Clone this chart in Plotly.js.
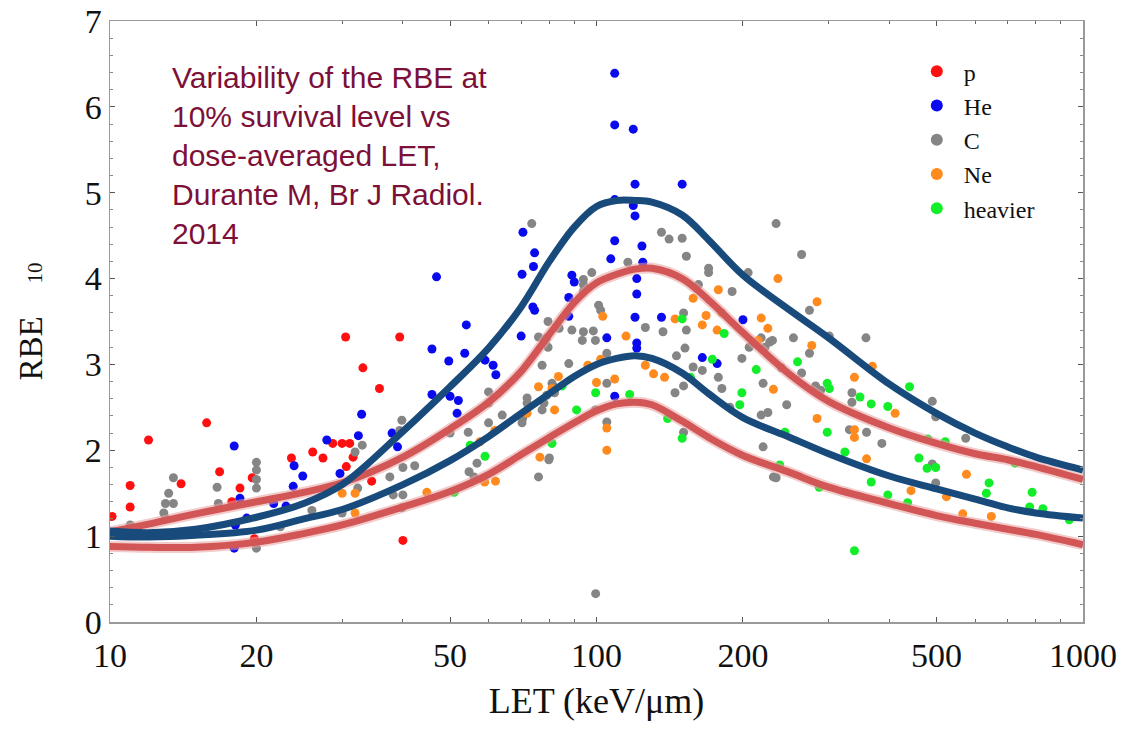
<!DOCTYPE html>
<html>
<head>
<meta charset="utf-8">
<script src="https://cdn.plot.ly/plotly-3.0.1.min.js"></script>
<style>html,body{margin:0;padding:0;background:#fff;}#chart{width:1124px;height:729px;}</style>
</head>
<body>
<div id="chart"></div>
<script>
// ---- data ----
const seriesNames = ["p", "He", "C", "Ne", "heavier"];

const letP = [10.1, 11.0, 11.0, 12.0, 14.0, 15.8, 16.8, 18.5, 19.6, 17.8, 19.8, 23.6, 26.1, 27.4, 28.7, 30.0, 31.1, 31.6, 30.6, 34.5, 30.5, 33.1, 35.8, 39.4, 40.0];
const rbeP = [1.23, 1.59, 1.34, 2.12, 1.61, 2.32, 1.75, 1.56, 1.68, 1.40, 0.97, 1.91, 1.98, 1.91, 2.08, 2.08, 2.08, 1.92, 1.81, 1.64, 3.32, 2.96, 2.72, 3.32, 0.95];

const letHe = [32.9, 32.4, 27.9, 18.0, 23.9, 24.9, 38.0, 39.0, 18.0, 18.5, 18.1, 19.1, 21.7, 23.8, 23.0, 29.7,
  70.6, 74.6, 74.2, 70.3, 46.9, 89, 90, 87.7, 109, 107, 124, 124.5, 121, 121, 74, 74.6, 54, 87.7, 70, 45.9, 49.7, 53.6, 59, 61.3, 62.1, 45.9, 50, 52, 51.7,
  105, 120, 136, 121, 121, 109, 165, 177, 200,
  109, 109, 119, 120, 150, 109, 119, 120];
const rbeHe = [2.42, 2.17, 2.12, 2.05, 1.82, 1.70, 2.20, 2.04, 0.86, 1.44, 1.13, 1.21, 1.38, 1.58, 1.35, 1.73,
  4.54, 4.30, 4.14, 4.05, 4.02, 4.04, 3.96, 3.78, 4.44, 4.23, 4.38, 4.19, 4.00, 3.82, 3.67, 3.63, 3.46, 3.56, 3.33, 3.18, 3.04, 3.13, 3.05, 2.99, 2.88, 2.65, 2.63, 2.58, 2.43,
  3.31, 3.55, 3.55, 3.25, 3.19, 2.63, 3.08, 3.01, 3.52,
  6.39, 5.79, 5.74, 5.10, 5.10, 4.92, 4.85, 4.73];

const letC = [13.5, 13.2, 13.0, 13.5, 12.9, 13.0, 11.0, 16.6, 16.7, 20, 20, 20, 20, 20, 22.4, 26, 30, 32.3, 37.6, 38.2, 33, 31.9, 39.4, 39.8,
  40, 42.3, 40, 39.8, 54.7, 79.8, 234, 99.6,
  73.6, 136, 141, 150, 234, 153, 116, 97.8, 94, 94, 94, 170, 170, 205, 162, 190, 101, 102, 79.5, 83.8, 89, 94, 98.5, 99.5, 93.5, 76, 79, 78.5, 79.5, 105, 126, 137, 151, 153, 152, 146, 158, 165, 178, 199, 206, 218, 227, 222, 220, 225, 218, 220, 145, 151, 151,
  87.7, 77.3, 81, 81.5, 82, 79, 78, 77.3, 72, 72, 105, 105, 99.5, 70.5, 70.3, 60, 60, 64, 60, 54.5, 50, 56.8, 56, 80, 76, 181, 188,
  264, 274, 301, 358, 254, 230, 274, 264, 240, 282, 289, 246, 335, 335, 331, 359, 386, 490, 498, 574, 231, 490, 498];
const rbeC = [1.68, 1.50, 1.38, 1.38, 1.27, 1.21, 1.13, 1.57, 1.38, 1.86, 1.77, 1.66, 1.56, 0.86, 1.11, 1.30, 1.27, 1.56, 1.69, 1.48, 2.06, 1.98, 2.23, 2.35,
  1.80, 1.82, 1.48, 1.33, 1.75, 1.89, 1.68, 0.33,
  4.64, 4.54, 4.46, 4.47, 4.64, 4.26, 4.19, 4.07, 3.99, 3.93, 3.85, 4.12, 4.07, 4.07, 3.93, 3.85, 3.69, 3.63, 3.50, 3.42, 3.40, 3.38, 3.39, 3.28, 3.28, 3.32, 3.31, 3.24, 3.20, 3.13, 3.43, 3.38, 3.60, 3.40, 3.19, 3.10, 2.97, 2.93, 2.85, 3.07, 3.20, 3.31, 3.26, 3.20, 2.78, 2.44, 2.41, 2.04, 2.67, 2.75, 2.21,
  3.01, 2.99, 2.78, 2.75, 2.67, 2.64, 2.55, 2.47, 2.61, 2.55, 2.78, 2.33, 2.47, 2.37, 2.32, 2.68, 2.55, 2.41, 2.32, 2.21, 2.20, 1.85, 1.69, 1.91, 1.69, 2.72, 2.50,
  4.28, 3.63, 3.33, 3.31, 3.31, 3.28, 3.13, 2.90, 2.96, 2.75, 2.70, 2.53, 2.67, 2.56, 2.24, 2.21, 2.08, 2.57, 2.39, 2.14, 1.69, 1.84, 1.62];

const letNe = [30, 31.9, 31.9, 58.9, 62, 44.8,
  103, 115, 96, 102, 109, 100, 83.5, 76, 81, 82, 72, 61.8, 57.6, 76.5, 105, 105, 126, 131, 138, 158, 178, 145, 165, 168, 177, 181, 218, 225, 215, 236,
  284, 277, 231, 369, 339, 284, 411, 339, 339, 359, 576, 443, 524, 566, 648];
const rbeNe = [1.50, 1.50, 1.27, 1.63, 1.64, 1.51,
  3.56, 3.33, 2.99, 3.06, 2.83, 2.79, 2.86, 2.74, 2.72, 2.47, 2.43, 2.23, 2.10, 1.92, 2.26, 2.00, 2.99, 2.89, 2.85, 3.77, 3.87, 3.53, 3.46, 3.57, 3.40, 3.60, 3.54, 3.42, 3.28, 4.00,
  3.73, 3.22, 2.71, 2.98, 2.85, 2.37, 2.43, 2.24, 2.15, 1.90, 1.72, 1.53, 1.46, 1.26, 1.23];

const letHeavy = [51, 150, 183, 173, 156, 213, 199, 197, 85, 99.6, 117, 91, 55, 59, 81, 140, 150,
  259, 298, 301, 348, 367, 397, 440, 244, 298, 324, 480, 521, 460, 478, 238, 725,
  287, 367, 397, 436, 641, 633, 786, 777, 827, 937, 339, 498];
const rbeHeavy = [1.51, 3.53, 3.36, 3.06, 2.85, 2.94, 2.67, 2.53, 2.75, 2.67, 2.65, 2.47, 2.06, 1.93, 2.08, 2.37, 2.14,
  3.03, 2.78, 2.72, 2.62, 2.54, 2.51, 2.74, 2.21, 2.21, 1.98, 2.13, 2.10, 1.91, 1.79, 1.83, 1.85,
  1.57, 1.63, 1.48, 1.39, 1.62, 1.50, 1.51, 1.34, 1.32, 1.19, 0.83, 1.80];

// fitted curves
const curveLET = [10, 12, 15, 20, 25, 30, 40, 50, 60, 70, 80, 90, 100, 110, 120, 130, 150, 170, 200, 250, 300, 400, 500, 600, 700, 800, 1000];
const blueUpper = [1.06, 1.04, 1.08, 1.22, 1.38, 1.60, 2.22, 2.74, 3.19, 3.67, 4.20, 4.60, 4.84, 4.91, 4.91, 4.89, 4.74, 4.45, 4.04, 3.63, 3.31, 2.77, 2.43, 2.20, 2.04, 1.92, 1.77];
const redUpper  = [1.05, 1.14, 1.26, 1.40, 1.51, 1.62, 1.92, 2.25, 2.56, 2.92, 3.35, 3.72, 3.95, 4.05, 4.11, 4.12, 4.00, 3.75, 3.37, 2.88, 2.57, 2.26, 2.08, 1.96, 1.89, 1.81, 1.66];
const blueLower = [1.00, 0.99, 1.01, 1.07, 1.20, 1.31, 1.60, 1.88, 2.16, 2.43, 2.66, 2.86, 3.00, 3.07, 3.10, 3.07, 2.90, 2.66, 2.38, 2.15, 1.96, 1.70, 1.55, 1.43, 1.33, 1.27, 1.21];
const redLower  = [0.88, 0.87, 0.87, 0.93, 1.03, 1.13, 1.34, 1.52, 1.72, 1.95, 2.15, 2.32, 2.46, 2.54, 2.56, 2.53, 2.34, 2.15, 1.94, 1.74, 1.57, 1.38, 1.24, 1.15, 1.08, 1.02, 0.90];

const xTickVals = [10, 20, 50, 100, 200, 500, 1000];
const xTickText = ["10", "20", "50", "100", "200", "500", "1000"];
const xMinorVals = [30, 40, 60, 70, 80, 90, 300, 400, 600, 700, 800, 900];

// ---- styling ----
const colors = ["#ff1010", "#0a0aee", "#858585", "#ff8a1e", "#12ee2a"];
const serif = "'Liberation Serif', 'Times New Roman', serif";
const xs = [letP, letHe, letC, letNe, letHeavy];
const ys = [rbeP, rbeHe, rbeC, rbeNe, rbeHeavy];

const traces = seriesNames.map((n, i) => ({
  type: "scatter", mode: "markers", name: n, x: xs[i], y: ys[i],
  legendgroup: n,
  marker: {color: colors[i], size: 9, line: {width: 0}}
}));

function curve(yv, col, w, op) {
  return {type: "scatter", mode: "lines", x: curveLET, y: yv, showlegend: false,
    hoverinfo: "skip", opacity: op,
    line: {color: col, width: w, shape: "spline", smoothing: 1.0}};
}
traces.push(curve(redUpper, "#e8a0a0", 11, 0.55));
traces.push(curve(redLower, "#e8a0a0", 11, 0.55));
traces.push(curve(redUpper, "#d35656", 7, 1));
traces.push(curve(redLower, "#d35656", 7, 1));
traces.push(curve(blueUpper, "#184b7c", 7, 1));
traces.push(curve(blueLower, "#184b7c", 7, 1));

const axisCommon = {
  showgrid: false, zeroline: false, showline: true, linecolor: "#9a9a9a", linewidth: 1.5,
  mirror: "ticks", ticks: "inside", ticklen: 5, tickwidth: 1, tickcolor: "#555",
  tickfont: {family: serif, size: 34, color: "#111"}
};

const nb = "\u00A0";
const layout = {
  width: 1124, height: 729,
  margin: {l: 110, r: 41, t: 21, b: 107},
  paper_bgcolor: "#fff", plot_bgcolor: "#fff",
  showlegend: true,
  legend: {x: 0.822, y: 0.953, xanchor: "left", yanchor: "top",
    font: {family: serif, size: 24, color: "#111"}, tracegroupgap: 0,
    itemwidth: 44,
    bgcolor: "rgba(0,0,0,0)", itemsizing: "constant"},
  xaxis: Object.assign({}, axisCommon, {
    type: "log", range: [1, 3], tickvals: xTickVals, ticktext: xTickText,
    ticklabelstandoff: 3,
    minor: {tickvals: xMinorVals, ticks: "inside", ticklen: 3, tickcolor: "#666"},
    title: {text: "LET (keV/μm)", font: {family: serif, size: 36, color: "#111"}, standoff: 14}
  }),
  yaxis: Object.assign({}, axisCommon, {
    range: [0, 7], dtick: 1, tick0: 0,
    minor: {dtick: 0.2, ticks: "inside", ticklen: 3, tickcolor: "#888"},
    title: {text: "RBE" + nb + nb + nb + nb + "<span style='font-size:21px'>10</span>", font: {family: serif, size: 33, color: "#111"}, standoff: 32}
  }),
  annotations: [{
    xref: "paper", yref: "paper", x: 0.062, y: 0.937, xanchor: "left", yanchor: "top",
    align: "left", showarrow: false,
    text: "Variability of the RBE at<br>10% survival level vs<br>dose-averaged LET,<br>Durante M, Br J Radiol.<br>2014",
    font: {family: "'Liberation Sans', Arial, sans-serif", size: 30, color: "#7d1038"}
  }]
};

Plotly.newPlot("chart", traces, layout, {displayModeBar: false, staticPlot: true});
</script>
</body>
</html>
